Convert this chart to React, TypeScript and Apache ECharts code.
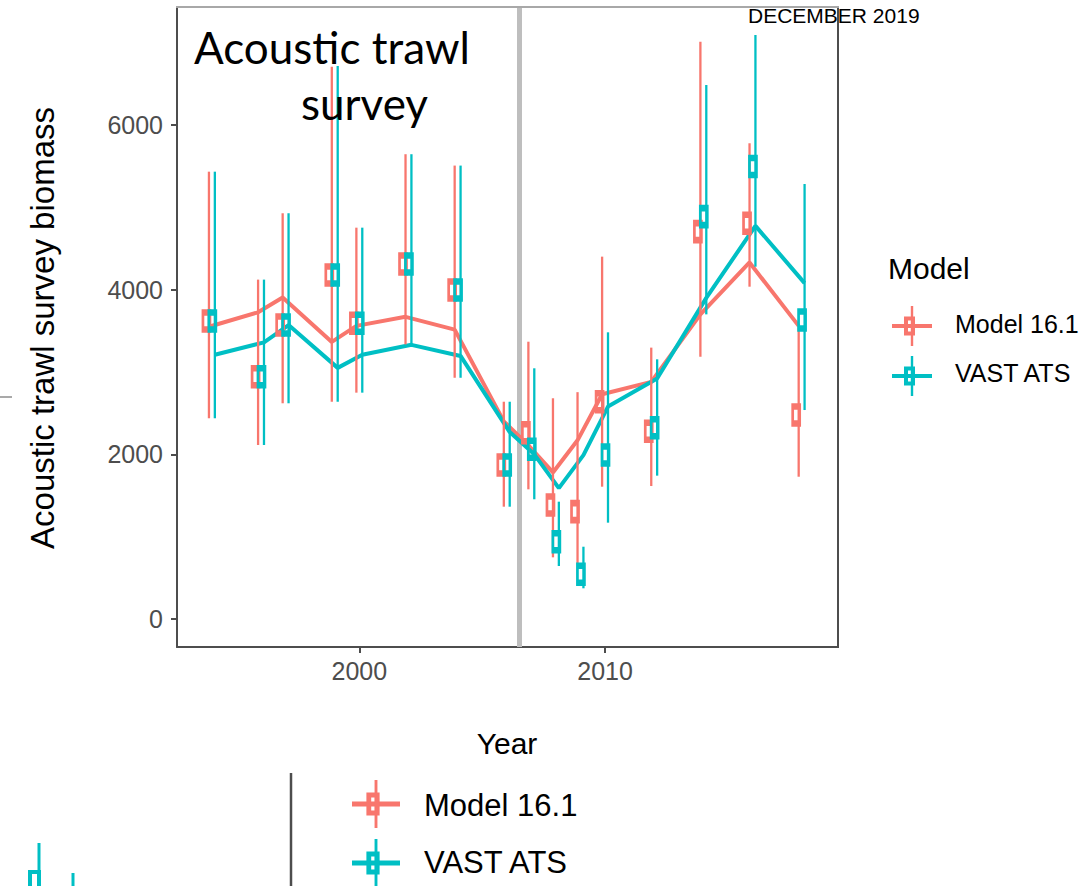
import React, { useEffect, useRef } from "react";
import * as echarts from "echarts";

const years = [1994, 1996, 1997, 1999, 2000, 2002, 2004, 2006, 2007, 2008, 2009, 2010, 2012, 2014, 2016, 2018];

const model161Fit = [3550, 3725, 3905, 3365, 3560, 3670, 3515, 2400, 2110, 1780, 2170, 2730, 2880, 3700, 4330, 3560];
const vastFit = [3210, 3360, 3570, 3050, 3210, 3330, 3195, 2270, 2000, 1590, 1990, 2580, 2920, 3900, 4775, 4080];

const model161Obs = [3620, 2943, 3571, 4178, 3591, 4312, 3996, 1870, 2263, 1385, 1304, 2639, 2280, 4705, 4806, 2478];
const model161Lo = [2438, 2113, 2620, 2639, 2749, 3335, 2930, 1364, 1575, 749, 676, 1607, 1615, 3186, 4036, 1728];
const model161Hi = [5433, 4122, 4928, 6708, 4753, 5645, 5507, 2639, 3368, 2681, 2755, 4401, 3296, 7012, 5778, 3560];

const vastObs = [3620, 2943, 3571, 4178, 3591, 4312, 3996, 1870, 2061, 939, 543, 1992, 2324, 4887, 5495, 3632];
const vastLo = [2438, 2113, 2620, 2639, 2749, 3335, 2930, 1364, 1454, 644, 373, 1170, 1741, 3700, 4279, 2538];
const vastHi = [5433, 4122, 4928, 6717, 4753, 5645, 5507, 2639, 3045, 1425, 878, 3482, 3154, 6486, 7093, 5283];

const xTicks = [2000, 2010];
const yTicks = [0, 2000, 4000, 6000];
const seriesNames = ["Model 16.1", "VAST ATS"];
const breakYear = 2006.5;

const RED = "#F8766D";
const CYAN = "#00BFC4";
const AXIS = "#4D4D4D";
const FONT = "'Liberation Sans', Arial, sans-serif";
const DODGE = 0.12;

function txt(text: string, x: number, y: number, size: number, opts: any = {}) {
  const align = opts.align || "left";
  return {
    type: "text",
    x,
    y,
    rotation: opts.rotation || 0,
    z: 100,
    style: {
      text,
      fontSize: size,
      fontFamily: opts.family || FONT,
      fill: opts.fill || "#000000",
      align,
      textAlign: align,
      verticalAlign: "middle",
      textVerticalAlign: "middle",
    },
  };
}

function legendKey(cx: number, cy: number, color: string, s: number) {
  return [
    { type: "line", z: 100, shape: { x1: cx - 20 * s, y1: cy, x2: cx + 20 * s, y2: cy }, style: { stroke: color, lineWidth: 4 * s } },
    { type: "line", z: 100, shape: { x1: cx, y1: cy - 20 * s, x2: cx, y2: cy + 20 * s }, style: { stroke: color, lineWidth: 2.4 * s } },
    {
      type: "rect",
      z: 101,
      shape: { x: cx - 2.5 * s - 3.5 * s, y: cy - 7.5 * s, width: 7 * s, height: 15 * s },
      style: { stroke: color, lineWidth: 4 * s, fill: "rgba(255,255,255,0)" },
    },
  ];
}

export default function App() {
  const ref = useRef<HTMLDivElement>(null);

  useEffect(() => {
    document.body.style.margin = "0";
    if (!ref.current) return;
    const chart = echarts.init(ref.current, undefined, { renderer: "svg" });

    const mkBars = (name: string, lo: number[], hi: number[], off: number, color: string) => ({
      type: "custom",
      name,
      z: 3,
      data: years.map((y, i) => [y + off, lo[i], hi[i]]),
      encode: { x: 0, y: [1, 2] },
      renderItem: (params: any, api: any) => {
        const x = api.value(0);
        const p1 = api.coord([x, api.value(1)]);
        const p2 = api.coord([x, api.value(2)]);
        return {
          type: "line",
          shape: { x1: p1[0], y1: p1[1], x2: p2[0], y2: p2[1] },
          style: { stroke: color, lineWidth: 2.3 },
        };
      },
    });

    const mkLine = (name: string, vals: number[], off: number, color: string, extra: any = {}) => ({
      type: "line",
      name,
      z: 2,
      symbol: "none",
      data: years.map((y, i) => [y + off, vals[i]]),
      lineStyle: { color, width: 4 },
      emphasis: { disabled: true },
      ...extra,
    });

    const mkPts = (name: string, vals: number[], off: number, color: string) => ({
      type: "scatter",
      name,
      z: 4,
      symbol: "rect",
      symbolSize: [7, 17],
      symbolOffset: [-2.5, 0],
      data: years.map((y, i) => [y + off, vals[i]]),
      itemStyle: { color: "rgba(255,255,255,0)", borderColor: color, borderWidth: 4.2, opacity: 1 },
      emphasis: { disabled: true },
    });

    const graphics: any[] = [
      { type: "line", z: 50, shape: { x1: 838, y1: 7, x2: 838, y2: 648 }, style: { stroke: AXIS, lineWidth: 2 } },
      { type: "line", z: 50, shape: { x1: 176, y1: 7, x2: 839, y2: 7 }, style: { stroke: "#A8A8A8", lineWidth: 2 } },
      { type: "line", z: 50, shape: { x1: 0, y1: 397, x2: 12, y2: 397 }, style: { stroke: "#8C8C8C", lineWidth: 1.5 } },
      txt("Acoustic trawl", 194, 47, 44, { family: "Lato, 'Open Sans', sans-serif" }),
      txt("survey", 301, 103, 44, { family: "Lato, 'Open Sans', sans-serif" }),
      txt("DECEMBER 2019", 748, 15, 21),
      txt("Year", 507, 743, 30, { align: "center" }),
      txt("Acoustic trawl survey biomass", 42, 328, 33, { align: "center", rotation: Math.PI / 2 }),
      txt("Model", 888, 268, 30),
      ...legendKey(912, 326, RED, 1),
      ...legendKey(912, 376, CYAN, 1),
      txt(seriesNames[0], 955, 324, 25),
      txt(seriesNames[1], 955, 373, 25),
      { type: "line", z: 50, shape: { x1: 291, y1: 773, x2: 291, y2: 886 }, style: { stroke: AXIS, lineWidth: 2.5 } },
      ...legendKey(376, 804, RED, 1.2),
      ...legendKey(376, 863, CYAN, 1.2),
      txt(seriesNames[0], 424, 805, 31),
      txt(seriesNames[1], 424, 862, 31),
      { type: "line", z: 50, shape: { x1: 39, y1: 843, x2: 39, y2: 886 }, style: { stroke: CYAN, lineWidth: 3 } },
      { type: "rect", z: 51, shape: { x: 30, y: 872, width: 9, height: 22 }, style: { stroke: CYAN, lineWidth: 4, fill: "rgba(255,255,255,0)" } },
      { type: "line", z: 50, shape: { x1: 73, y1: 873, x2: 73, y2: 886 }, style: { stroke: CYAN, lineWidth: 3 } },
    ];

    const option: any = {
      animation: false,
      backgroundColor: "#ffffff",
      grid: { left: 177, top: 7, width: 661, height: 640, show: false },
      xAxis: {
        type: "value",
        min: 1992.58,
        max: 2019.48,
        axisLine: { show: true, onZero: false, lineStyle: { color: AXIS, width: 2 } },
        axisTick: { show: true, length: 6, customValues: xTicks, lineStyle: { color: AXIS, width: 2 } },
        axisLabel: {
          customValues: xTicks,
          color: AXIS,
          fontSize: 25,
          fontFamily: FONT,
          margin: 11,
          formatter: (v: number) => String(v),
        },
        splitLine: { show: false },
      },
      yAxis: {
        type: "value",
        min: -340,
        max: 7433,
        axisLine: { show: true, onZero: false, lineStyle: { color: AXIS, width: 2 } },
        axisTick: { show: true, length: 6, customValues: yTicks, lineStyle: { color: AXIS, width: 2 } },
        axisLabel: {
          customValues: yTicks,
          color: AXIS,
          fontSize: 25,
          fontFamily: FONT,
          margin: 14,
          formatter: (v: number) => String(v),
        },
        splitLine: { show: false },
      },
      series: [
        mkLine(seriesNames[0], model161Fit, -DODGE, RED, {
          markLine: {
            silent: true,
            symbol: "none",
            label: { show: false },
            lineStyle: { color: "#BEBEBE", width: 5, type: "solid" },
            data: [{ xAxis: breakYear }],
            z: 1,
          },
        }),
        mkLine(seriesNames[1], vastFit, DODGE, CYAN),
        mkBars(seriesNames[0], model161Lo, model161Hi, -DODGE, RED),
        mkBars(seriesNames[1], vastLo, vastHi, DODGE, CYAN),
        mkPts(seriesNames[0], model161Obs, -DODGE, RED),
        mkPts(seriesNames[1], vastObs, DODGE, CYAN),
      ],
      graphic: graphics,
    };

    chart.setOption(option);
    return () => chart.dispose();
  }, []);

  return <div ref={ref} style={{ width: 1089, height: 886 }} />;
}
